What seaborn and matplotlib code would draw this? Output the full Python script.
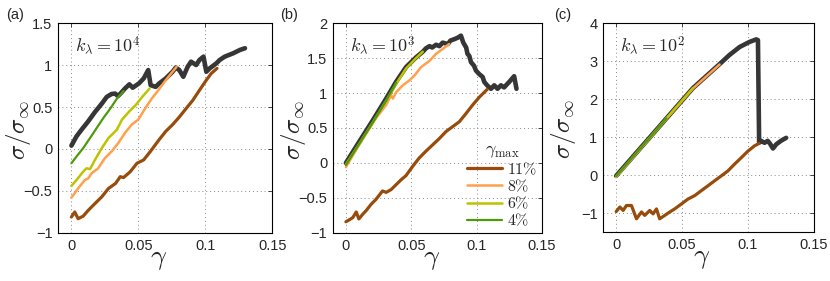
import numpy as np
import matplotlib
matplotlib.use("Agg")
import matplotlib.pyplot as plt
import seaborn as sns

# ---- panel (a): k_lambda = 1e4 ----
a_black_g = [0, 0.0038, 0.0076, 0.0126, 0.0176, 0.0227, 0.0264, 0.030, 0.0327, 0.0348, 0.0378,
             0.040, 0.0433, 0.0458, 0.0504, 0.054, 0.0574, 0.0592, 0.063, 0.0655, 0.0705, 0.0756,
             0.078, 0.0806, 0.0836, 0.0869, 0.0894, 0.0932, 0.0957, 0.0987, 0.1008, 0.1033, 0.1083,
             0.1108, 0.1146, 0.1209, 0.126, 0.1297]
a_black_s = [0.04, 0.15, 0.23, 0.33, 0.44, 0.54, 0.62, 0.655, 0.66, 0.63, 0.68,
             0.72, 0.77, 0.73, 0.78, 0.84, 0.94, 0.76, 0.74, 0.78, 0.84, 0.92,
             0.97, 0.94, 0.86, 0.98, 1.04, 1.00, 1.06, 1.10, 0.92, 0.96, 1.02,
             1.06, 1.10, 1.14, 1.18, 1.20]
a_brown_g = [0, 0.0025, 0.005, 0.0088, 0.0126, 0.0176, 0.0227, 0.0277, 0.033, 0.0365, 0.039,
             0.044, 0.049, 0.054, 0.059, 0.0655, 0.0705, 0.0756, 0.0806, 0.0856, 0.0907, 0.0957,
             0.1008, 0.1045, 0.1088]
a_brown_s = [-0.81, -0.75, -0.83, -0.80, -0.73, -0.65, -0.57, -0.47, -0.41, -0.33, -0.34,
             -0.27, -0.17, -0.13, -0.03, 0.11, 0.21, 0.29, 0.38, 0.48, 0.58, 0.70,
             0.82, 0.90, 0.96]
a_orange_g = [0, 0.005, 0.010, 0.0126, 0.015, 0.020, 0.025, 0.030, 0.035, 0.040, 0.045, 0.050,
              0.055, 0.060, 0.065, 0.0705, 0.0756, 0.0786]
a_orange_s = [-0.58, -0.47, -0.37, -0.35, -0.29, -0.23, -0.11, -0.03, 0.07, 0.19, 0.29, 0.35,
              0.48, 0.60, 0.70, 0.82, 0.92, 0.98]
a_yellow_g = [0, 0.0038, 0.0088, 0.0113, 0.0139, 0.0176, 0.0227, 0.0277, 0.034, 0.0378, 0.0428,
              0.0479, 0.0529, 0.0584]
a_yellow_s = [-0.44, -0.37, -0.27, -0.23, -0.24, -0.13, 0.01, 0.13, 0.23, 0.35, 0.44,
              0.52, 0.62, 0.72]
a_green_g = [0, 0.0038, 0.0088, 0.0139, 0.0189, 0.0239, 0.029, 0.034, 0.039]
a_green_s = [-0.17, -0.09, 0.01, 0.13, 0.25, 0.37, 0.48, 0.60, 0.69]

# ---- panel (b): k_lambda = 1e3 ----
b_black_g = [0, 0.0104, 0.0206, 0.0308, 0.0384, 0.046, 0.0537, 0.0588, 0.0613, 0.064, 0.066,
             0.069, 0.0715, 0.074, 0.078, 0.080, 0.083, 0.0855, 0.088, 0.0898, 0.092, 0.093,
             0.0944, 0.0957, 0.098, 0.0995, 0.102, 0.1046, 0.1058, 0.108, 0.111, 0.1135, 0.116,
             0.1186, 0.121, 0.125, 0.1287, 0.1305]
b_black_s = [0, 0.31, 0.61, 0.92, 1.16, 1.37, 1.51, 1.59, 1.64, 1.67, 1.65,
             1.69, 1.67, 1.72, 1.70, 1.75, 1.77, 1.79, 1.82, 1.72, 1.65, 1.56,
             1.53, 1.44, 1.39, 1.32, 1.27, 1.23, 1.16, 1.11, 1.06, 1.11, 1.06,
             1.11, 1.08, 1.16, 1.24, 1.06]
b_brown_g = [0, 0.0028, 0.0053, 0.0079, 0.0099, 0.013, 0.0155, 0.0193, 0.023, 0.028, 0.0308,
             0.0346, 0.0384, 0.0422, 0.046, 0.051, 0.056, 0.0613, 0.0664, 0.0715, 0.0766, 0.0817,
             0.0868, 0.092, 0.097, 0.102, 0.108]
b_brown_s = [-0.84, -0.81, -0.78, -0.70, -0.80, -0.73, -0.68, -0.59, -0.52, -0.40, -0.42,
             -0.38, -0.31, -0.24, -0.18, -0.05, 0.07, 0.17, 0.26, 0.35, 0.45, 0.52,
             0.59, 0.71, 0.83, 0.94, 1.05]
b_orange_g = [0, 0.0079, 0.0155, 0.023, 0.0308, 0.0346, 0.0359, 0.0384, 0.0435, 0.0486, 0.0524,
              0.0575, 0.064, 0.069, 0.074, 0.079]
b_orange_s = [-0.06, 0.19, 0.42, 0.64, 0.83, 0.97, 0.92, 1.01, 1.11, 1.18, 1.25,
              1.37, 1.46, 1.56, 1.63, 1.70]
b_yellow_g = [0, 0.0104, 0.0206, 0.0308, 0.0384, 0.046, 0.0537, 0.0588]
b_yellow_s = [-0.02, 0.28, 0.58, 0.89, 1.13, 1.35, 1.50, 1.59]
b_green_g = [0, 0.0104, 0.0206, 0.0308, 0.0384]
b_green_s = [-0.03, 0.28, 0.58, 0.89, 1.15]

# ---- panel (c): k_lambda = 1e2 ----
c_black_g = [0, 0.0381, 0.0583, 0.0785, 0.086, 0.0937, 0.101, 0.1063, 0.1076, 0.1085, 0.110,
             0.1126, 0.115, 0.1167, 0.119, 0.1215, 0.125, 0.129]
c_black_s = [-0.02, 1.49, 2.29, 2.92, 3.16, 3.37, 3.50, 3.57, 3.55, 0.85, 0.90,
             0.85, 0.90, 0.83, 0.70, 0.81, 0.90, 0.98]
c_brown_g = [0, 0.0028, 0.0053, 0.0078, 0.0116, 0.0154, 0.0192, 0.0217, 0.0255, 0.028, 0.0306,
             0.033, 0.0369, 0.0407, 0.0444, 0.0495, 0.0545, 0.0596, 0.0646, 0.0697, 0.0747, 0.0798,
             0.0848, 0.0899, 0.095, 0.100, 0.105, 0.1083]
c_brown_s = [-0.96, -0.84, -0.93, -0.80, -0.80, -1.15, -0.97, -1.06, -0.93, -1.02, -0.89,
             -1.15, -1.06, -0.97, -0.89, -0.76, -0.63, -0.54, -0.41, -0.28, -0.15, -0.02,
             0.11, 0.29, 0.46, 0.63, 0.77, 0.83]
c_orange_g = [0, 0.0381, 0.0583, 0.0785]
c_orange_s = [-0.05, 1.48, 2.28, 2.91]
c_yellow_g = [0, 0.0381, 0.0583]
c_yellow_s = [-0.03, 1.49, 2.29]
c_green_g = [0, 0.0381]
c_green_s = [-0.03, 1.49]

legend_labels = [r'$11\%$', r'$8\%$', r'$6\%$', r'$4\%$']
k_labels = [r'$k_\lambda = 10^4$', r'$k_\lambda = 10^3$', r'$k_\lambda = 10^2$']
panel_tags = ['(a)', '(b)', '(c)']

col_black = '#363636'
col_brown = '#974c0c'
col_orange = '#ffa04c'
col_yellow = '#bcc400'
col_green = '#4f9a0c'

sns.set_style('white')
plt.rcParams['font.family'] = ['Liberation Sans', 'DejaVu Sans']
plt.rcParams['mathtext.fontset'] = 'cm'

fig = plt.figure(figsize=(8.3, 2.81), dpi=100)
boxes = [[0.0699, 0.171, 0.258, 0.747],
         [0.401, 0.171, 0.252, 0.747],
         [0.7265, 0.174, 0.254, 0.744]]

panels = [
    (a_black_g, a_black_s, a_brown_g, a_brown_s, a_orange_g, a_orange_s,
     a_yellow_g, a_yellow_s, a_green_g, a_green_s),
    (b_black_g, b_black_s, b_brown_g, b_brown_s, b_orange_g, b_orange_s,
     b_yellow_g, b_yellow_s, b_green_g, b_green_s),
    (c_black_g, c_black_s, c_brown_g, c_brown_s, c_orange_g, c_orange_s,
     c_yellow_g, c_yellow_s, c_green_g, c_green_s),
]
ylims = [(-1, 1.5), (-1, 2), (-1.5, 4)]
yticks = [np.arange(-1, 1.51, 0.5), np.arange(-1, 2.01, 0.5), np.arange(-1, 4.01, 1)]
tag_x = [0.007, 0.337, 0.668]

def ytick_fmt(v):
    s = f'{v:g}'
    return s.replace('-', '\u2212')

for i, (box, data) in enumerate(zip(boxes, panels)):
    ax = fig.add_axes(box)
    bg, bs, brg, brs, og, os_, yg, ys, gg, gs = data
    kw = dict(estimator=None, sort=False, ax=ax, legend=False)
    sns.lineplot(x=bg, y=bs, color=col_black, lw=3.3, **kw)
    sns.lineplot(x=brg, y=brs, color=col_brown, lw=2.3, **kw)
    sns.lineplot(x=og, y=os_, color=col_orange, lw=1.8, **kw)
    sns.lineplot(x=yg, y=ys, color=col_yellow, lw=1.8, **kw)
    sns.lineplot(x=gg, y=gs, color=col_green, lw=1.6, **kw)

    ax.set_xlim(-0.01, 0.15)
    ax.set_ylim(*ylims[i])
    ax.set_xticks([0, 0.05, 0.1, 0.15])
    ax.set_xticklabels(['0', '0.05', '0.1', '0.15'])
    ax.set_yticks(yticks[i])
    ax.set_yticklabels([ytick_fmt(v) for v in yticks[i]])
    ax.tick_params(direction='in', length=3, width=0.6, labelsize=10.5,
                   top=True, right=True, pad=4)
    ax.grid(True, ls=(0, (1, 3)), color='#888888', lw=0.7)
    for sp in ax.spines.values():
        sp.set_linewidth(0.8)
        sp.set_color('black')
    ax.set_xlabel(r'$\gamma$', fontsize=20)
    ax.xaxis.set_label_coords(0.47, -0.06)
    ax.xaxis.label.set_va('top')
    ax.set_ylabel(r'$\sigma/\sigma_\infty$', fontsize=18)
    ax.yaxis.set_label_coords(-25.0 / (box[2] * 830), 0.49)
    ax.text(0.08, 0.865, k_labels[i], transform=ax.transAxes, fontsize=13,
            va='baseline', ha='left')
    fig.text(tag_x[i], 0.947, panel_tags[i], fontsize=10.5,
             va='center', ha='left')

    if i == 1:
        handles = ax.get_lines()[1:5]
        ax.legend(handles, legend_labels, loc='lower right', frameon=False,
                  title=r'$\gamma_{\max}$', fontsize=11.5, title_fontsize=13,
                  handlelength=2.2, handletextpad=0.3, labelspacing=0.04,
                  borderaxespad=0.0, borderpad=0.3)

fig.savefig('out.png', dpi=100)
